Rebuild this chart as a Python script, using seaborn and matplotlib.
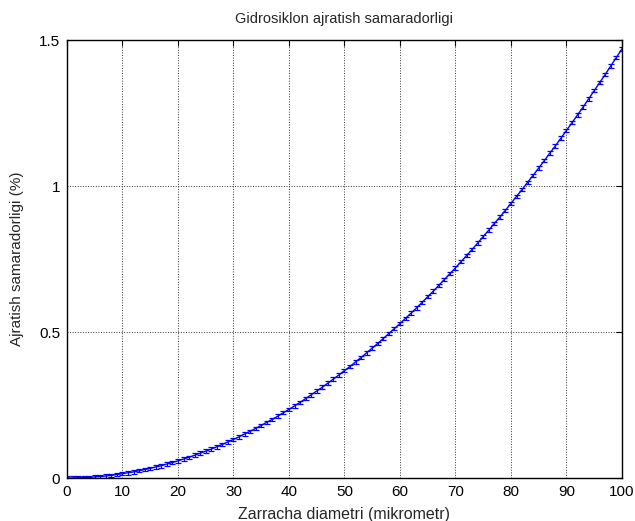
import matplotlib
matplotlib.use("Agg")
import matplotlib.pyplot as plt
import seaborn as sns
import pandas as pd

# particle diameter (micrometre) and separation efficiency (%)
diameter = list(range(0, 101))
efficiency = [
    0.000, 0.000, 0.001, 0.001, 0.002, 0.004, 0.005, 0.007, 0.009, 0.012,
    0.015, 0.018, 0.021, 0.025, 0.029, 0.033, 0.038, 0.042, 0.048, 0.053,
    0.059, 0.065, 0.071, 0.078, 0.085, 0.092, 0.099, 0.107, 0.115, 0.124,
    0.132, 0.141, 0.151, 0.160, 0.170, 0.180, 0.191, 0.201, 0.212, 0.224,
    0.235, 0.247, 0.259, 0.272, 0.285, 0.298, 0.311, 0.325, 0.339, 0.353,
    0.368, 0.382, 0.398, 0.413, 0.429, 0.445, 0.461, 0.478, 0.495, 0.512,
    0.529, 0.547, 0.565, 0.583, 0.602, 0.621, 0.640, 0.660, 0.680, 0.700,
    0.720, 0.741, 0.762, 0.783, 0.805, 0.827, 0.849, 0.872, 0.894, 0.917,
    0.941, 0.965, 0.988, 1.013, 1.037, 1.062, 1.087, 1.113, 1.138, 1.164,
    1.191, 1.217, 1.244, 1.271, 1.299, 1.327, 1.355, 1.383, 1.412, 1.441,
    1.470,
]
x_ticks = [0, 10, 20, 30, 40, 50, 60, 70, 80, 90, 100]
y_ticks = [0, 0.5, 1, 1.5]
y_tick_labels = ["0", "0.5", "1", "1.5"]

df = pd.DataFrame({"d": diameter, "eff": efficiency})

sns.set_style("white")
plt.rcParams["font.family"] = ["Liberation Sans", "DejaVu Sans"]

fig = plt.figure(figsize=(6.35, 5.21), dpi=100)
ax = fig.add_axes([0.1055, 0.0825, 0.874, 0.8405])

sns.lineplot(data=df, x="d", y="eff", ax=ax, color="#0000ff", linewidth=1.0)
# small cap-like markers at every point
ax.errorbar(df["d"], df["eff"], yerr=0.006, fmt="none", ecolor="#0000ff",
            elinewidth=0.8, capsize=2.4, capthick=0.9)

ax.set_xlim(0, 100)
ax.set_ylim(0, 1.5)
ax.set_xticks(x_ticks)
ax.set_yticks(y_ticks)
ax.set_yticklabels(y_tick_labels)
ax.tick_params(direction="in", length=4, width=0.8, top=True, right=True,
               labelsize=11, colors="black")
ax.tick_params(axis="x", pad=5)
ax.tick_params(axis="y", pad=5)
ax.grid(True, color="#333333", linestyle=":", linewidth=0.7)
for s in ax.spines.values():
    s.set_color("black")
    s.set_linewidth(1.0)

ax.set_title("Gidrosiklon ajratish samaradorligi", fontsize=10.5, pad=12)
ax.set_xlabel("Zarracha diametri (mikrometr)", fontsize=11.5, labelpad=6)
ax.set_ylabel("Ajratish samaradorligi (%)", fontsize=11, labelpad=11)

fig.savefig("out.png", dpi=100)
